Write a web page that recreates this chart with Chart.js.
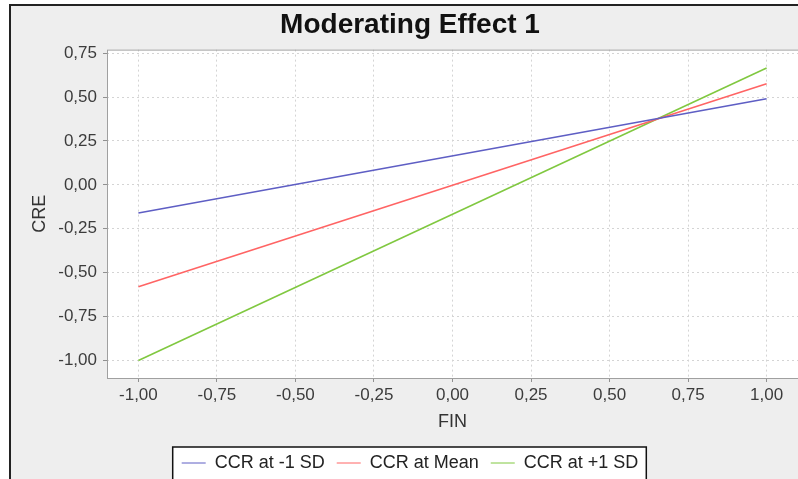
<!DOCTYPE html>
<html>
<head>
<meta charset="utf-8">
<title>Moderating Effect 1</title>
<script src="https://cdn.jsdelivr.net/npm/chart.js@4"></script>
<style>
    html, body { margin: 0; padding: 0; background: #ffffff; overflow: hidden; }
    #frame {
        position: absolute; left: 9px; top: 4px; width: 820px; height: 500px;
        border: 2px solid #222222; background: #eeeeee;
    }
    #wrap { position: absolute; left: 0; top: 0; width: 798px; height: 479px; }
</style>
</head>
<body>
<div id="frame"></div>
<div id="wrap"><canvas id="mod_effect"></canvas></div>
<script>
// values
let fin = [-1.00, 1.00];
let ccrLow = [-0.16, 0.49];
let ccrMean = [-0.58, 0.575];
let ccrHigh = [-1.00, 0.665];

let xTicks = [-1.00, -0.75, -0.50, -0.25, 0.00, 0.25, 0.50, 0.75, 1.00];
let yTicks = [-1.00, -0.75, -0.50, -0.25, 0.00, 0.25, 0.50, 0.75];

function points(ys) {
    return fin.map((x, i) => ({x: x, y: ys[i]}));
}

function commaLabel(v) {
    return v.toFixed(2).replace('.', ',');
}

function legendRect(chart) {
    let boxes = chart.legend.legendHitBoxes;
    if (!boxes || !boxes.length) return null;
    let last = boxes[boxes.length - 1];
    let left = boxes[0].left - 9;
    let right = last.left + last.width + 8;
    return {left: left, top: boxes[0].top - 7, width: right - left, height: 60};
}

// white plot area + grey border, box round the legend
let plotFrame = {
    id: 'plotFrame',
    beforeDraw(chart) {
        let a = chart.chartArea;
        let c = chart.ctx;
        c.save();
        c.fillStyle = '#ffffff';
        c.fillRect(a.left, a.top, a.right - a.left, a.bottom - a.top);
        let r = legendRect(chart);
        if (r) c.fillRect(r.left, r.top, r.width, r.height);
        c.restore();
    },
    beforeDatasetsDraw(chart) {
        let a = chart.chartArea;
        let c = chart.ctx;
        c.save();
        c.strokeStyle = '#a0a0a0';
        c.lineWidth = 1;
        c.strokeRect(a.left + 0.5, a.top + 0.5, a.right - a.left, a.bottom - a.top);
        c.restore();
    },
    afterDraw(chart) {
        let r = legendRect(chart);
        if (!r) return;
        let c = chart.ctx;
        c.save();
        c.strokeStyle = '#111111';
        c.lineWidth = 1.5;
        c.strokeRect(r.left, r.top, r.width, r.height);
        c.restore();
    }
};

let mod_effect = document.getElementById('mod_effect').getContext('2d');
new Chart(mod_effect, {
    type: 'scatter',
    data: {
        datasets: [
            {
                label: 'CCR at -1 SD',
                data: points(ccrLow),
                borderColor: '#5e5ec4',
                backgroundColor: '#5e5ec4',
            },
            {
                label: 'CCR at Mean',
                data: points(ccrMean),
                borderColor: '#ff6464',
                backgroundColor: '#ff6464',
            },
            {
                label: 'CCR at +1 SD',
                data: points(ccrHigh),
                borderColor: '#80c840',
                backgroundColor: '#80c840',
            }
        ],
    },
    options: {
        animation: false,
        responsive: true,
        maintainAspectRatio: false,
        showLine: true,
        elements: {
            line: { borderWidth: 1.6, tension: 0 },
            point: { radius: 0, hoverRadius: 0 }
        },
        layout: {
            padding: { left: 22, right: 0, top: 0, bottom: -3 }
        },
        scales: {
            x: {
                type: 'linear',
                min: -1.1,
                max: 1.1,
                afterBuildTicks: (scale) => { scale.ticks = xTicks.map(v => ({value: v})); },
                afterFit: (scale) => { scale.height = 64; },
                border: { display: false, dash: [2, 3] },
                grid: {
                    color: '#d4d4d4',
                    tickColor: '#909090',
                    tickBorderDash: [],
                    tickLength: 4
                },
                ticks: {
                    color: '#3c3c3c',
                    padding: 3,
                    maxRotation: 0,
                    font: { family: 'Liberation Sans', size: 17 },
                    callback: (v) => commaLabel(v)
                },
                title: {
                    display: true,
                    text: 'FIN',
                    color: '#333333',
                    padding: { top: 0, bottom: 9 },
                    font: { family: 'Liberation Sans', size: 18 }
                }
            },
            y: {
                type: 'linear',
                min: -1.1,
                max: 0.77,
                afterBuildTicks: (scale) => { scale.ticks = yTicks.map(v => ({value: v})); },
                afterFit: (scale) => { scale.width = 85; },
                border: { display: false, dash: [2, 3] },
                grid: {
                    color: '#d4d4d4',
                    tickColor: '#909090',
                    tickBorderDash: [],
                    tickLength: 4
                },
                ticks: {
                    color: '#3c3c3c',
                    padding: 6,
                    font: { family: 'Liberation Sans', size: 17 },
                    callback: (v) => commaLabel(v)
                },
                title: {
                    display: true,
                    text: 'CRE',
                    color: '#333333',
                    padding: { top: 7, bottom: 0 },
                    font: { family: 'Liberation Sans', size: 18 }
                }
            }
        },
        plugins: {
            title: {
                display: true,
                text: 'Moderating Effect 1',
                color: '#111111',
                padding: { top: 8, bottom: 8 },
                font: { family: 'Liberation Sans', size: 28, weight: 'bold' }
            },
            legend: {
                display: true,
                position: 'bottom',
                labels: {
                    color: '#222222',
                    usePointStyle: true,
                    pointStyle: 'line',
                    pointStyleWidth: 24,
                    padding: 12,
                    font: { family: 'Liberation Sans', size: 18 }
                }
            },
            tooltip: { enabled: false }
        }
    },
    plugins: [plotFrame]
});
</script>
</body>
</html>
